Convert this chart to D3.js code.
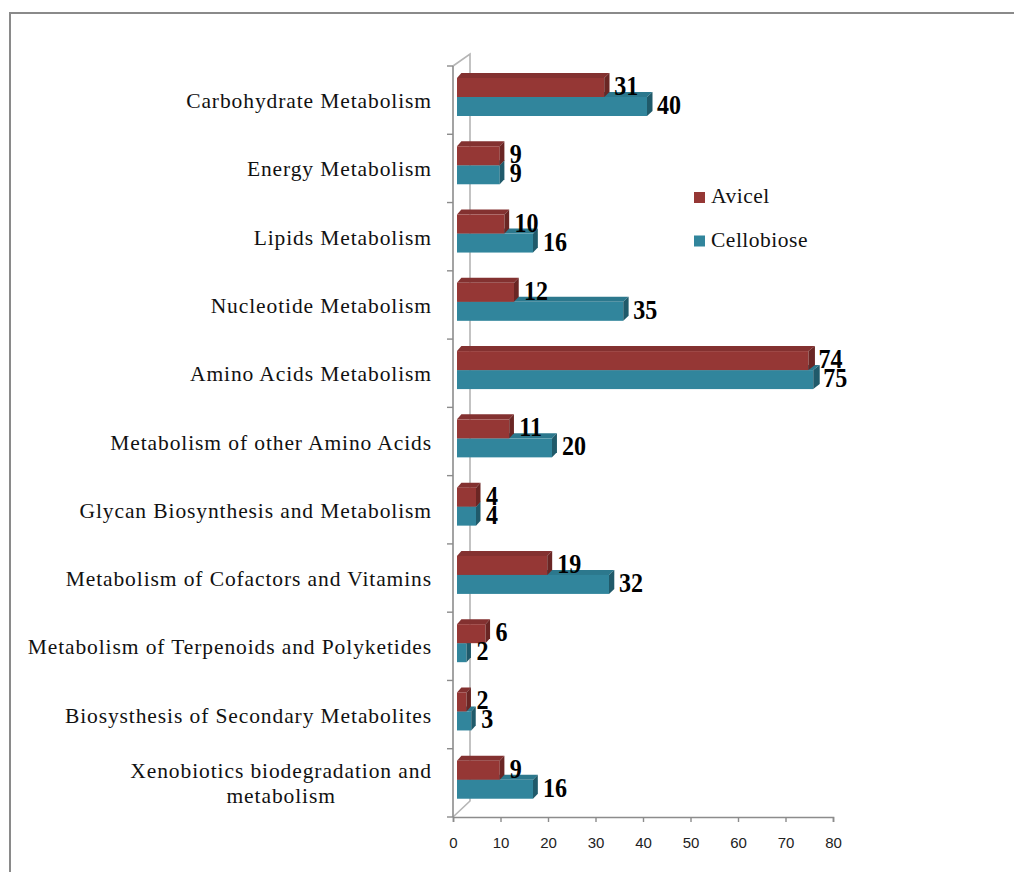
<!DOCTYPE html>
<html>
<head>
<meta charset="utf-8">
<script src="https://cdn.jsdelivr.net/npm/d3@7"></script>
<style>
  html, body { margin: 0; padding: 0; background: #fff; }
  svg { display: block; }
</style>
</head>
<body>
<svg id="chart" width="1014" height="872"></svg>
<script>
// KEGG metabolism categories (top to bottom) and gene counts per substrate
const categories = [
  "Carbohydrate Metabolism",
  "Energy Metabolism",
  "Lipids Metabolism",
  "Nucleotide Metabolism",
  "Amino Acids Metabolism",
  "Metabolism of other Amino Acids",
  "Glycan Biosynthesis and Metabolism",
  "Metabolism of Cofactors and Vitamins",
  "Metabolism of Terpenoids and Polyketides",
  "Biosysthesis of Secondary Metabolites",
  "Xenobiotics biodegradation and metabolism"
];
const seriesNames = ["Avicel", "Cellobiose"];
const avicel     = [31, 9, 10, 12, 74, 11, 4, 19, 6, 2, 9];
const cellobiose = [40, 9, 16, 35, 75, 20, 4, 32, 2, 3, 16];
const xTicks = [0, 10, 20, 30, 40, 50, 60, 70, 80];

const svg = d3.select("#chart");

// outer frame (top and left edges)
svg.append("path")
  .attr("d", "M10,872 L10,13 L1014,13")
  .attr("fill", "none").attr("stroke", "#8a8a8a").attr("stroke-width", 2);

// plot geometry
const x = d3.scaleLinear().domain([0, 80]).range([453, 833]);
const y = d3.scaleBand().domain(categories).range([66, 817]);
const inner = d3.scaleBand().domain(seriesNames).range([15, 53]);
const wallDx = 17, wallTopDy = -12, wallBotDy = -16;
const barDx = 4, barDy = -3;          // bar placement inside the depth
const topDy = -5;                      // bar top-face depth
const topDx = px => 4.4 + 0.0058 * (px - 457); // mild perspective

const palette = {
  Avicel:     { front: "#953735", top: "#833130", side: "#6a2624" },
  Cellobiose: { front: "#31859c", top: "#2c788d", side: "#205a6a" }
};

// side wall and back wall edges
const g = svg.append("g");
const y0 = y.range()[0], y1 = y.range()[1];
g.append("path")
  .attr("d", `M${x(0)},${y0} L${x(0) + wallDx},${y0 + wallTopDy} L${x(0) + wallDx},${y1 + wallBotDy} L${x(0)},${y1}`)
  .attr("fill", "none").attr("stroke", "#b5b5b5").attr("stroke-width", 1.6);
// front vertical axis
g.append("line")
  .attr("x1", x(0)).attr("x2", x(0)).attr("y1", y0).attr("y2", y1)
  .attr("stroke", "#8c8c8c").attr("stroke-width", 1.6);
// category tick marks
const bounds = categories.map(c => y(c)).concat([y1]);
g.selectAll("line.ctick").data(bounds).join("line")
  .attr("class", "ctick")
  .attr("x1", x(0) - 6).attr("x2", x(0))
  .attr("y1", d => d).attr("y2", d => d)
  .attr("stroke", "#8c8c8c").attr("stroke-width", 1.4);

// bottom value axis
const xAxis = d3.axisBottom(x).tickValues(xTicks).tickSize(5).tickPadding(15);
const ax = svg.append("g").attr("transform", `translate(0,${y1})`).call(xAxis);
ax.select(".domain").attr("stroke", "#8c8c8c").attr("stroke-width", 1.6);
ax.selectAll(".tick line").attr("stroke", "#8c8c8c").attr("stroke-width", 1.4);
ax.selectAll(".tick text")
  .attr("font-family", "'Liberation Sans', Arial, sans-serif")
  .attr("font-size", 15).attr("fill", "#222");

// category labels
const labelG = svg.append("g")
  .attr("font-family", "'Liberation Serif', 'Times New Roman', serif")
  .attr("font-size", 21.5).attr("letter-spacing", 0.9).attr("fill", "#111");
categories.forEach(c => {
  const cy = y(c) + y.bandwidth() / 2;
  if (c === "Xenobiotics biodegradation and metabolism") {
    const lines = ["Xenobiotics biodegradation and", "metabolism"];
    const t = labelG.append("text").attr("text-anchor", "middle");
    const spans = lines.map((ln, i) =>
      t.append("tspan").attr("y", cy - 4.8 + i * 25).text(ln));
    const w = spans[0].node().getComputedTextLength();
    spans.forEach(sp => sp.attr("x", 432 - w / 2));
  } else {
    labelG.append("text")
      .attr("x", 432).attr("y", cy + 8)
      .attr("text-anchor", "end").text(c);
  }
});

// 3D bars: cellobiose drawn first so the avicel bar overlaps it
const rows = categories.map((c, i) => ({ cat: c, Avicel: avicel[i], Cellobiose: cellobiose[i] }));
const barsG = svg.append("g");
["Cellobiose", "Avicel"].forEach(s => {
  const col = palette[s];
  rows.forEach(r => {
    const v = r[s];
    const xl = x(0) + barDx, xr = x(v) + barDx;
    const yt = y(r.cat) + inner(s) + barDy, yb = yt + inner.bandwidth();
    const dl = topDx(xl), dr = topDx(xr);
    // top face
    barsG.append("path")
      .attr("d", `M${xl},${yt} L${xl + dl},${yt + topDy} L${xr + dr},${yt + topDy} L${xr},${yt} Z`)
      .attr("fill", col.top);
    // front face
    barsG.append("rect")
      .attr("x", xl).attr("y", yt)
      .attr("width", xr - xl).attr("height", yb - yt)
      .attr("fill", col.front);
    // side face
    barsG.append("path")
      .attr("d", `M${xr},${yt} L${xr + dr},${yt + topDy} L${xr + dr},${yb + topDy} L${xr},${yb} Z`)
      .attr("fill", col.side);
  });
});

// value labels (condensed bold serif)
const valG = svg.append("g")
  .attr("font-family", "'Liberation Serif', 'Times New Roman', serif")
  .attr("font-weight", "bold").attr("font-size", 28).attr("fill", "#000");
["Avicel", "Cellobiose"].forEach(s => {
  rows.forEach(r => {
    const v = r[s];
    const yc = y(r.cat) + inner(s) + barDy + inner.bandwidth() / 2 - 2;
    valG.append("text")
      .attr("transform", `translate(${x(v) + barDx + 10},${yc + 9.5}) scale(0.86,1)`)
      .text(v);
  });
});

// legend
const legend = svg.append("g")
  .attr("font-family", "'Liberation Serif', 'Times New Roman', serif")
  .attr("font-size", 21.5).attr("letter-spacing", 0.5).attr("fill", "#111");
seriesNames.forEach((s, i) => {
  const ly = 192 + i * 43.5;
  legend.append("rect").attr("x", 694).attr("y", ly)
    .attr("width", 11).attr("height", 11).attr("fill", palette[s].front);
  legend.append("text").attr("x", 711).attr("y", ly + 11).text(s);
});
</script>
</body>
</html>
